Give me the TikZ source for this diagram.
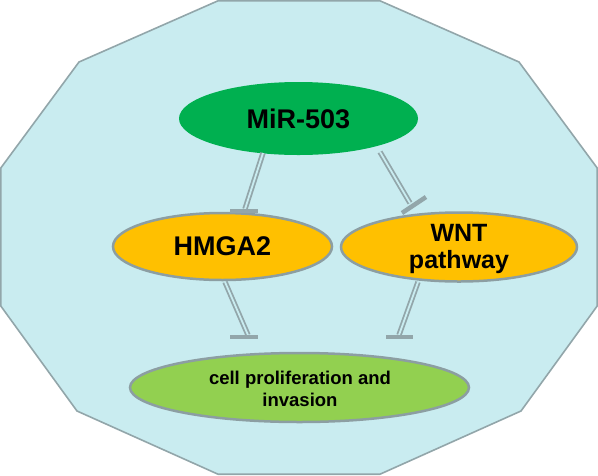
\documentclass[tikz,border=0pt]{standalone}
\usepackage{fontspec}
\setmainfont{Liberation Sans}
\usetikzlibrary{shapes.geometric}
\definecolor{bgcyan}{RGB}{201,236,240}
\definecolor{framegray}{RGB}{146,166,170}
\definecolor{conngray}{RGB}{146,166,170}
\definecolor{mirgreen}{RGB}{0,176,80}
\definecolor{orangefill}{RGB}{255,192,0}
\definecolor{limefill}{RGB}{146,208,80}
\definecolor{edgegray}{RGB}{140,158,162}
\tikzset{
  frame/.style={draw=framegray, line width=1.6pt, fill=bgcyan, line join=miter},
  oval/.style={ellipse, inner sep=0pt},
  geneoval/.style={oval, fill=orangefill, draw=edgegray, line width=2.5pt},
  bigtext/.style={font=\bfseries\fontsize{27}{31}\selectfont, text=black, align=center},
  midtext/.style={font=\bfseries\fontsize{25}{27.5}\selectfont, text=black, align=center},
  smalltext/.style={font=\bfseries\fontsize{18.5}{22}\selectfont, text=black, align=center},
  inh/.style={draw=conngray, double=bgcyan, double distance=1.8pt, line width=1.8pt},
  tbar/.style={draw=conngray, line width=4.5pt}
}
\begin{document}
\begin{tikzpicture}[x=1pt,y=-1pt]
\useasboundingbox (0,0) rectangle (598,475);
\fill[white] (0,0) rectangle (598,475);
\draw[frame] (218,0.8) -- (380,0.8) -- (519,62) -- (597.2,168) -- (597.2,306) -- (521,411)
  -- (380,474.2) -- (218,474.2) -- (77,411) -- (0.8,306) -- (0.8,168) -- (79,62) -- cycle;

\node[oval, fill=mirgreen, minimum width=239pt, minimum height=73pt] (mir) at (298.5,118.5) {};
\node[bigtext] at (mir) {MiR-503};

\node[geneoval, minimum width=219pt, minimum height=67pt] (hmga) at (222.5,246.5) {};
\node[bigtext] at (hmga) {HMGA2};

\node[geneoval, minimum width=236pt, minimum height=69pt] (wnt) at (459,247) {};
\node[midtext] at (459,249) {WNT\\pathway};

\node[oval, fill=limefill, draw=edgegray, line width=2.5pt, minimum width=339pt, minimum height=69pt] (cell) at (299.5,387.5) {};
\node[smalltext] at (300,389) {cell proliferation and\\invasion};

% inhibitory connectors
\coordinate (a1) at (263,153);  \coordinate (b1) at (245,209);
\coordinate (c1l) at (230,211); \coordinate (c1r) at (258,211);
\coordinate (a2) at (380,152);  \coordinate (b2) at (410,203);
\coordinate (c2l) at (402,213); \coordinate (c2r) at (426,197);
\coordinate (a3) at (225,282);  \coordinate (b3) at (248,335);
\coordinate (c3l) at (230,337); \coordinate (c3r) at (258,337);
\coordinate (a4) at (418,282);  \coordinate (b4) at (399,335);
\coordinate (c4l) at (386,337); \coordinate (c4r) at (413,337);

\draw[inh] (a1) -- (b1);
\draw[tbar] (c1l) -- (c1r);
\draw[inh] (a2) -- (b2);
\draw[tbar] (c2l) -- (c2r);
\draw[inh] (a3) -- (b3);
\draw[tbar] (c3l) -- (c3r);
\draw[inh] (a4) -- (b4);
\draw[tbar] (c4l) -- (c4r);
\end{tikzpicture}
\end{document}
